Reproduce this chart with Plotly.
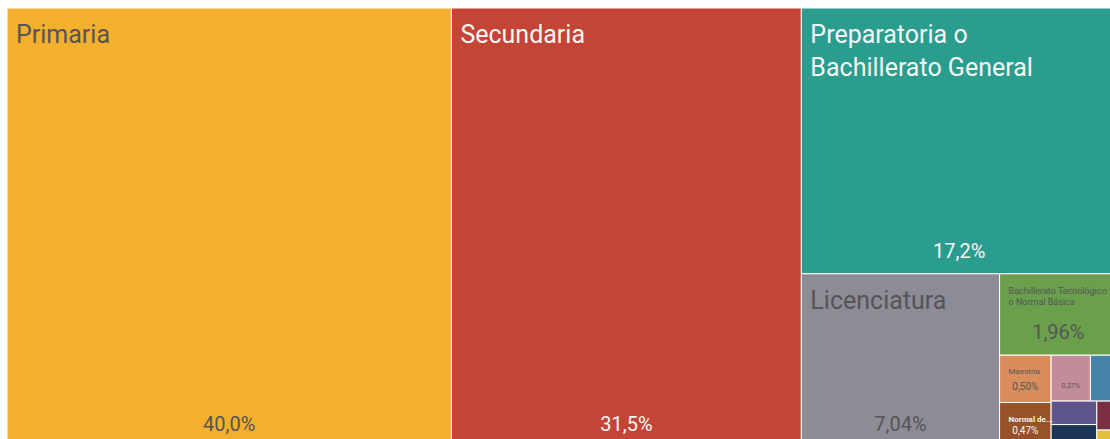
import plotly.graph_objects as go

labels = ["Primaria", "Secundaria", "Preparatoria o Bachillerato General", "Licenciatura",
          "Bachillerato Tecnológico o Normal Básica", "Maestría",
          "Estudios Técnicos o Comerciales con Preparatoria terminada",
          "Especialidad", "Normal de Licenciatura",
          "Estudios Técnicos o Comerciales con Secundaria terminada",
          "Estudios Técnicos o Comerciales con Primaria terminada",
          "Doctorado", "Preescolar"]
values = [40.0, 31.5, 17.2, 7.04, 1.96, 0.50, 0.37, 0.25, 0.47, 0.22, 0.21, 0.12, 0.07]
display_names = ["Primaria", "Secundaria", "Preparatoria o<br>Bachillerato General", "Licenciatura",
                 "Bachillerato Tecnológico<br>o Normal Básica", "Maestría", "", "", "<b>Normal de...</b>",
                 "", "", "", ""]
show_pct = [True, True, True, True, True, True, True, False, True, False, False, False, False]
colors = ["#F4AF2D", "#C44536", "#2A9D8F", "#8C8C97", "#6A9F4C", "#D98D5C", "#C48B9B",
          "#4684A7", "#985229", "#5E548E", "#1D3557", "#7B2D42", "#E2BF3B"]
text_colors = ["#555555", "#F5F5F5", "#F5F5F5", "#555555", "#555555", "#555555", "#555555",
               "#555555", "#F5F5F5", "#F5F5F5", "#F5F5F5", "#F5F5F5", "#555555"]
name_sizes = [25, 25, 25, 25, 9, 8, 8, 8, 8, 8, 8, 8, 8]
pct_sizes = [20, 20, 20, 20, 20, 10, 7, 7, 10, 7, 7, 7, 7]


def fmt(v):
    s = f"{v:.2f}" if v < 1 else (f"{v:.1f}" if v >= 10 else f"{v:.2f}")
    return s.replace(".", ",") + "%"


pct_text = [fmt(v) if s else "" for v, s in zip(values, show_pct)]
parents = [""] * len(labels)
FONT = "Roboto, sans-serif"
PAD = dict(t=0, l=0, r=0, b=0)
CLEAR = ["rgba(0,0,0,0)"] * len(labels)
NO_LINE = dict(color="rgba(0,0,0,0)", width=0)

# geometry (pixels, within plot area): tiles 1110 x 439 at y=8;
# percent layer shifted up 8 px, name layer shifted right 6 px and down 9 px
TW, TH = 1110, 439
PW, PH = TW + 6, 8 + TH + 9
tile_dom = dict(x=[0, TW / PW], y=[1 - (8 + TH) / PH, 1 - 8 / PH])
pct_dom = dict(x=[0, TW / PW], y=[1 - TH / PH, 1])
name_dom = dict(x=[6 / PW, 1], y=[0, 1 - 17 / PH])
common = dict(labels=labels, parents=parents, values=values, sort=True,
              tiling=dict(packing="squarify", squarifyratio=1.618, pad=0),
              pathbar=dict(visible=False), textinfo="text", texttemplate="%{text}")

fig = go.Figure()
fig.add_trace(go.Treemap(
    **common, text=[""] * len(labels),
    marker=dict(colors=colors, line=dict(color="white", width=1), pad=PAD),
    hoverinfo="label+value", domain=tile_dom,
))
fig.add_trace(go.Treemap(
    **common, text=pct_text, textposition="bottom center",
    marker=dict(colors=CLEAR, line=NO_LINE, pad=PAD),
    textfont=dict(family=FONT, size=pct_sizes, color=text_colors),
    hoverinfo="skip", domain=pct_dom,
))
fig.add_trace(go.Treemap(
    **common, text=display_names, textposition="top left",
    marker=dict(colors=CLEAR, line=NO_LINE, pad=PAD),
    textfont=dict(family=FONT, size=name_sizes, color=text_colors),
    hoverinfo="skip", domain=name_dom,
))
fig.update_layout(
    width=7 + PW, height=PH,
    autosize=False,
    margin=dict(l=7, r=0, t=0, b=0),
    paper_bgcolor="white",
    showlegend=False,
)
fig.write_html(
    "out.html", config={"responsive": False, "displayModeBar": False},
    post_script="document.body.style.margin='0';document.body.style.overflow='hidden';"
                "document.documentElement.style.overflow='hidden';",
)
